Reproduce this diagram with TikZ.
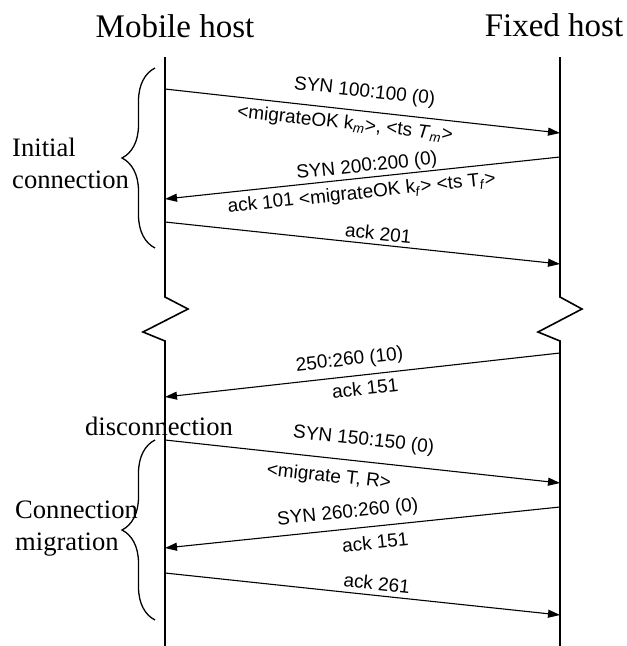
\documentclass[tikz,border=0pt]{standalone}
\usepackage{fontspec}
\setmainfont{Liberation Serif}
\newfontfamily\lblfont{Liberation Sans}
\usetikzlibrary{arrows.meta,decorations.pathreplacing}
\tikzset{
  lifeline/.style={line width=1.6pt, line join=miter},
  msg/.style={line width=1.1pt, -{Triangle[length=12pt,width=8pt]}},
  lbl/.style={font=\lblfont\fontsize{19}{22}\selectfont, sloped, inner sep=0pt, anchor=center},
  title/.style={font=\fontsize{33}{38}\selectfont, inner sep=0pt, anchor=base},
  side/.style={font=\fontsize{26.6}{32}\selectfont, inner sep=0pt, align=left},
  bracestyle/.style={line width=1.3pt, decorate, decoration={brace, amplitude=33pt}}
}
\newcommand{\sbm}[1]{\textsubscript{\textit{#1}}}
\begin{document}
\begin{tikzpicture}[x=1pt,y=-1pt]
\useasboundingbox (0,0) rectangle (627,646);
% titles
\node[title] (mh) at (175,37) {Mobile host};
\node[title] (fh) at (554,36) {Fixed host};
% lifeline coordinates
\coordinate (mtop) at (165,57);
\coordinate (mz1) at (165,297);
\coordinate (mz2) at (188,309);
\coordinate (mz3) at (143,332);
\coordinate (mz4) at (165,341);
\coordinate (mbot) at (165,646);
\coordinate (ftop) at (560,57);
\coordinate (fz1) at (560,297);
\coordinate (fz2) at (582,309);
\coordinate (fz3) at (538,332);
\coordinate (fz4) at (560,341);
\coordinate (fbot) at (560,646);
\draw[lifeline] (mtop) -- (mz1) -- (mz2) -- (mz3) -- (mz4) -- (mbot);
\draw[lifeline] (ftop) -- (fz1) -- (fz2) -- (fz3) -- (fz4) -- (fbot);
% message end points
\coordinate (m1) at (165,89);  \coordinate (f1) at (560,133);
\coordinate (f2) at (560,157); \coordinate (m2) at (165,199);
\coordinate (m3) at (165,222); \coordinate (f3) at (560,264);
\coordinate (f4) at (560,353); \coordinate (m4) at (165,397);
\coordinate (m5) at (165,440); \coordinate (f5) at (560,483);
\coordinate (f6) at (560,507); \coordinate (m6) at (165,548);
\coordinate (m7) at (165,573); \coordinate (f7) at (560,615);
% messages
\draw[msg] (m1) -- (f1)
  node[lbl, pos=0.50, yshift=19pt] {SYN 100:100 (0)}
  node[lbl, pos=0.46, yshift=-15pt] {<migrateOK k\sbm{m}>, <ts \textit{T}\sbm{m}>};
\draw[msg] (f2) -- (m2)
  node[lbl, pos=0.486, yshift=11pt] {SYN 200:200 (0)}
  node[lbl, pos=0.506, yshift=-15.5pt] {ack 101 <migrateOK k\sbm{f}> <ts T\sbm{f}>};
\draw[msg] (m3) -- (f3)
  node[lbl, pos=0.537, yshift=11.5pt] {ack 201};
\draw[msg] (f4) -- (m4)
  node[lbl, pos=0.528, yshift=16pt] {250:260 (10)}
  node[lbl, pos=0.497, yshift=-13pt] {ack 151};
\draw[msg] (m5) -- (f5)
  node[lbl, pos=0.497, yshift=21pt] {SYN 150:150 (0)}
  node[lbl, pos=0.42, yshift=-19pt] {<migrate T, R>};
\draw[msg] (f6) -- (m6)
  node[lbl, pos=0.533, yshift=16pt] {SYN 260:260 (0)}
  node[lbl, pos=0.472, yshift=-16pt] {ack 151};
\draw[msg] (m7) -- (f7)
  node[lbl, pos=0.533, yshift=12pt] {ack 261};
% braces
\coordinate (b1t) at (155,68); \coordinate (b1b) at (155,248);
\coordinate (b2t) at (155,440); \coordinate (b2b) at (155,620);
\draw[bracestyle] (b1b) -- (b1t);
\draw[bracestyle] (b2b) -- (b2t);
% side labels
\node[side, anchor=west] (ic) at (12,163) {Initial\\connection};
\node[side, anchor=base] (dc) at (159,435) {disconnection};
\node[side, anchor=west] (cm) at (15,529) {Connection\\migration};
\end{tikzpicture}
\end{document}
